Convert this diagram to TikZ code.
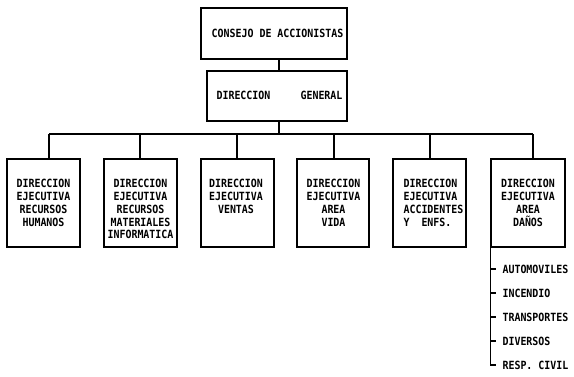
\documentclass[tikz,border=0pt]{standalone}
\usepackage{fontspec}
\newfontfamily\dmono[FakeStretch=0.88]{DejaVu Sans Mono}
\begin{document}
\begin{tikzpicture}[x=1pt,y=-1pt,line width=1.1pt,
  box/.style={draw,line width=1.1pt,inner sep=0pt},
  lbl/.style={font=\dmono\bfseries\fontsize{11.3}{12.7}\selectfont,inner sep=0pt,align=center,anchor=north},
  itm/.style={font=\dmono\bfseries\fontsize{11.3}{12}\selectfont,inner sep=0pt,anchor=west}]
\useasboundingbox (0,0) rectangle (574,376);
% boxes
\node[box,minimum width=146pt,minimum height=51pt] (top) at (274,33.5) {};
\node[box,minimum width=140pt,minimum height=50pt] (gen) at (277,96) {};
\node[box,minimum width=73pt,minimum height=88pt] (b1) at (43.5,203) {};
\node[box,minimum width=73pt,minimum height=88pt] (b2) at (140.5,203) {};
\node[box,minimum width=73pt,minimum height=88pt] (b3) at (237.5,203) {};
\node[box,minimum width=72pt,minimum height=88pt] (b4) at (333,203) {};
\node[box,minimum width=73pt,minimum height=88pt] (b5) at (429.5,203) {};
\node[box,minimum width=74pt,minimum height=88pt] (b6) at (528,203) {};
% texts
\node[lbl,anchor=center] (ttop) at (277.5,33) {CONSEJO DE ACCIONISTAS};
\node[lbl,anchor=west] (tg1) at (216,95) {DIRECCION};
\node[lbl,anchor=east] (tg2) at (343,95) {GENERAL};
\node[lbl] (t1) at (43.5,179) {DIRECCION\\EJECUTIVA\\RECURSOS\\HUMANOS};
\node[lbl] (t2) at (140.5,179) {DIRECCION\\EJECUTIVA\\RECURSOS\\MATERIALES\\INFORMATICA};
\node[lbl] (t3) at (236,179) {DIRECCION\\EJECUTIVA\\VENTAS};
\node[lbl] (t4) at (333.5,179) {DIRECCION\\EJECUTIVA\\AREA\\VIDA};
\node[lbl,anchor=north west,align=left] (t5) at (403,179) {DIRECCION\\EJECUTIVA\\ACCIDENTES\\Y\ \ ENFS.};
\node[lbl] (t6) at (528,179) {DIRECCION\\EJECUTIVA\\AREA\\DAÑOS};
% connectors
\coordinate (bus) at (279,134);
\coordinate (c1) at (49,134);
\coordinate (c2) at (140,134);
\coordinate (c3) at (237,134);
\coordinate (c4) at (334,134);
\coordinate (c5) at (430,134);
\coordinate (c6) at (533,134);
\draw (top.south -| bus) -- (gen.north -| bus);
\draw (gen.south -| bus) -- (bus);
\draw (c1) -- (c6);
\draw (c1) -- (c1 |- b1.north);
\draw (c2) -- (c2 |- b2.north);
\draw (c3) -- (c3 |- b3.north);
\draw (c4) -- (c4 |- b4.north);
\draw (c5) -- (c5 |- b5.north);
\draw (c6) -- (c6 |- b6.north);
% list
\node[itm] (r1) at (502,269) {AUTOMOVILES};
\node[itm] (r2) at (502,293) {INCENDIO};
\node[itm] (r3) at (502,317) {TRANSPORTES};
\node[itm] (r4) at (502,341) {DIVERSOS};
\node[itm] (r5) at (502,365) {RESP. CIVIL};
\draw (b6.south west) -- (r5.west -| b6.south west) -- ++(6,0);
\draw (r1.west -| b6.south west) -- ++(6,0);
\draw (r2.west -| b6.south west) -- ++(6,0);
\draw (r3.west -| b6.south west) -- ++(6,0);
\draw (r4.west -| b6.south west) -- ++(6,0);
\end{tikzpicture}
\end{document}
